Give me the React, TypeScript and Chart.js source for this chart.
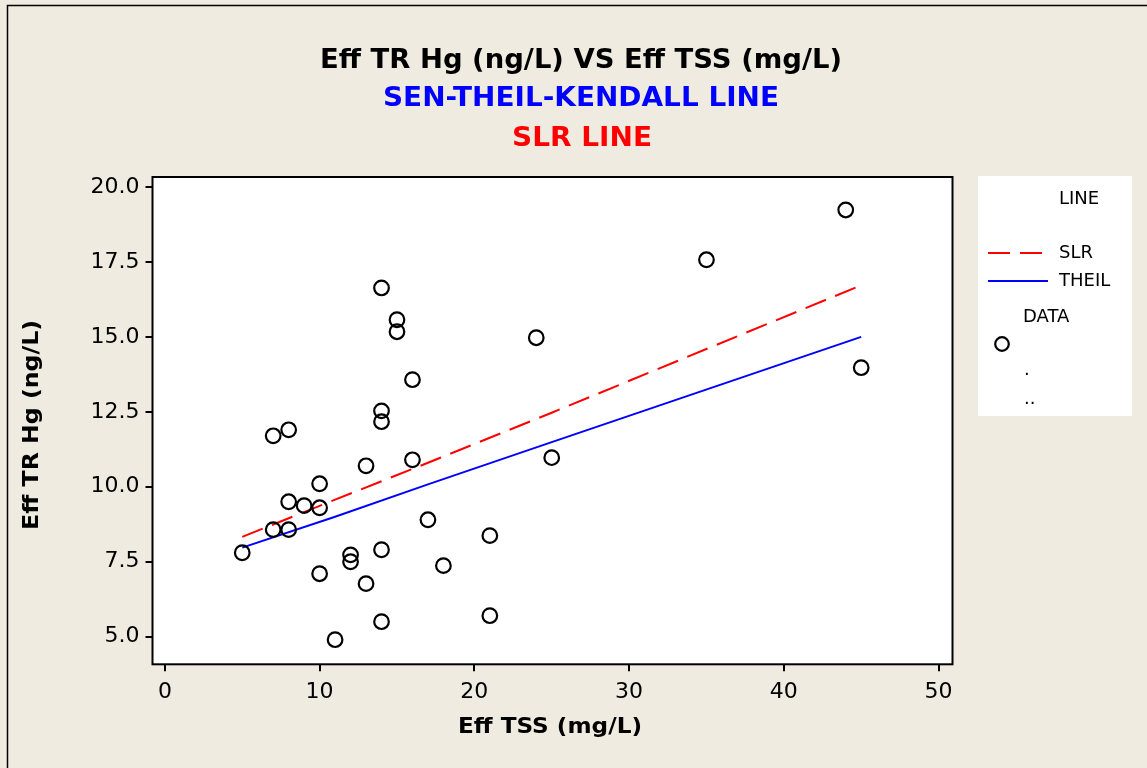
import React, { useEffect, useRef } from "react";
import { Chart, registerables } from "chart.js";

Chart.register(...registerables);

// ---- data ----
const tssValues = [5, 7, 7, 8, 8, 8, 9, 10, 10, 10, 11, 12, 12, 13, 13, 14, 14, 14, 14, 14, 15, 15, 16, 16, 17, 18, 21, 21, 24, 25, 35, 44, 45];
const hgValues = [7.8, 8.57, 11.7, 11.9, 9.5, 8.57, 9.37, 10.1, 9.3, 7.1, 4.9, 7.73, 7.5, 10.7, 6.77, 16.63, 12.53, 12.17, 7.9, 5.5, 15.57, 15.17, 13.57, 10.9, 8.9, 7.37, 8.37, 5.7, 14.97, 10.97, 17.57, 19.23, 13.97];

const lineX = [5, 11, 17, 25, 45];
const slrY = [8.33, 9.57, 10.8, 12.47, 16.72];
const theilY = [7.97, 9.0, 10.08, 11.49, 15.0];

const xTicks = [0, 10, 20, 30, 40, 50];
const yTicks = [5, 7.5, 10, 12.5, 15, 17.5, 20];

const titleLines = ["Eff TR Hg (ng/L) VS Eff TSS (mg/L)", "SEN-THEIL-KENDALL LINE", "SLR LINE"];
const xTitle = "Eff TSS (mg/L)";
const yTitle = "Eff TR Hg (ng/L)";
const legendTitle = "LINE";
const legendItems = ["SLR", "THEIL"];
const dataLegend = ["DATA", ".", ".."];

const W = 1147;
const H = 768;
const FONT = "'DejaVu Sans', Verdana, sans-serif";

function fitText(ctx: CanvasRenderingContext2D, text: string, cx: number, cy: number, font: string, color: string, targetW: number, rotate = false) {
  ctx.save();
  ctx.font = font;
  ctx.fillStyle = color;
  ctx.textAlign = "center";
  ctx.textBaseline = "middle";
  const w = ctx.measureText(text).width;
  ctx.translate(cx, cy);
  if (rotate) ctx.rotate(-Math.PI / 2);
  ctx.scale(targetW / w, 1);
  ctx.fillText(text, 0, 0);
  ctx.restore();
}

const decorPlugin = {
  id: "decor",
  beforeDraw(chart: any) {
    const { ctx, chartArea } = chart;
    ctx.save();
    ctx.fillStyle = "#efebe1";
    ctx.fillRect(0, 0, W, H);
    ctx.strokeStyle = "#000";
    ctx.lineWidth = 1.5;
    ctx.beginPath();
    ctx.moveTo(7.5, H + 2);
    ctx.lineTo(7.5, 5.5);
    ctx.lineTo(W + 2, 5.5);
    ctx.stroke();
    ctx.fillStyle = "#ffffff";
    ctx.fillRect(chartArea.left, chartArea.top, chartArea.right - chartArea.left, chartArea.bottom - chartArea.top);
    ctx.restore();
  },
  afterDraw(chart: any) {
    const { ctx, chartArea } = chart;
    ctx.save();
    ctx.strokeStyle = "#000";
    ctx.lineWidth = 2;
    ctx.strokeRect(chartArea.left, chartArea.top, chartArea.right - chartArea.left, chartArea.bottom - chartArea.top);

    // titles
    fitText(ctx, titleLines[0], 581, 61, `bold 27px ${FONT}`, "#000000", 522);
    fitText(ctx, titleLines[1], 581, 99, `bold 27px ${FONT}`, "#0000ff", 396);
    fitText(ctx, titleLines[2], 582, 139, `bold 27px ${FONT}`, "#ff0000", 140);

    // axis titles
    fitText(ctx, xTitle, 550, 728, `bold 21px ${FONT}`, "#000000", 184);
    fitText(ctx, yTitle, 33, 425, `bold 21px ${FONT}`, "#000000", 210, true);

    // legend
    ctx.fillStyle = "#ffffff";
    ctx.fillRect(978, 176, 154, 240);
    ctx.fillStyle = "#000";
    ctx.font = `18px ${FONT}`;
    ctx.textAlign = "left";
    ctx.textBaseline = "middle";
    ctx.fillText(legendTitle, 1059, 199);
    ctx.fillText(legendItems[0], 1059, 253);
    ctx.fillText(legendItems[1], 1059, 281);
    ctx.fillText(dataLegend[0], 1023, 317);
    ctx.fillText(dataLegend[1], 1024, 370);
    ctx.fillText(dataLegend[2], 1024, 399);

    ctx.lineWidth = 2;
    ctx.strokeStyle = "#ff0000";
    ctx.setLineDash([22, 10]);
    ctx.beginPath();
    ctx.moveTo(988, 253);
    ctx.lineTo(1042, 253);
    ctx.stroke();
    ctx.setLineDash([]);
    ctx.strokeStyle = "#0000ff";
    ctx.beginPath();
    ctx.moveTo(988, 281);
    ctx.lineTo(1048, 281);
    ctx.stroke();
    ctx.strokeStyle = "#000";
    ctx.lineWidth = 2.2;
    ctx.beginPath();
    ctx.arc(1002, 344, 6.8, 0, Math.PI * 2);
    ctx.stroke();
    ctx.restore();
  },
};

export default function App() {
  const ref = useRef<HTMLCanvasElement>(null);
  useEffect(() => {
    if (!ref.current) return;
    const chart = new Chart(ref.current, {
      type: "scatter",
      data: {
        datasets: [
          {
            label: "DATA",
            data: tssValues.map((x, i) => ({ x, y: hgValues[i] })),
            pointStyle: "circle",
            pointRadius: 7.3,
            borderColor: "#000",
            backgroundColor: "rgba(0,0,0,0)",
            pointBorderWidth: 2.2,
            showLine: false,
            order: 0,
          },
          {
            label: "SLR",
            data: lineX.map((x, i) => ({ x, y: slrY[i] })),
            showLine: true,
            borderColor: "#ff0000",
            borderWidth: 2,
            borderDash: [22, 10],
            pointRadius: 0,
            order: 1,
          },
          {
            label: "THEIL",
            data: lineX.map((x, i) => ({ x, y: theilY[i] })),
            showLine: true,
            borderColor: "#0000ff",
            borderWidth: 2,
            pointRadius: 0,
            order: 2,
          },
        ],
      },
      options: {
        animation: false,
        responsive: false,
        devicePixelRatio: 1,
        layout: { padding: { left: 0, top: 177, right: 194.5, bottom: 0 } },
        plugins: { legend: { display: false }, tooltip: { enabled: false }, title: { display: false } },
        scales: {
          x: {
            type: "linear",
            min: -0.8,
            max: 50.9,
            afterBuildTicks: (s: any) => { s.ticks = xTicks.map((v) => ({ value: v })); },
            afterFit: (s: any) => { s.height = 103.7; },
            grid: { drawOnChartArea: false, drawTicks: true, tickLength: 7, color: "#000", lineWidth: 2 },
            border: { display: false },
            ticks: { color: "#000", font: { family: FONT, size: 22 }, padding: 8, maxRotation: 0, autoSkip: false },
          },
          y: {
            type: "linear",
            min: 4.08,
            max: 20.33,
            afterBuildTicks: (s: any) => { s.ticks = yTicks.map((v) => ({ value: v })); },
            afterFit: (s: any) => { s.width = 152.5; },
            grid: { drawOnChartArea: false, drawTicks: true, tickLength: 7, color: "#000", lineWidth: 2 },
            border: { display: false },
            ticks: { color: "#000", font: { family: FONT, size: 22 }, padding: 6, autoSkip: false, callback: (v: any) => Number(v).toFixed(1) },
          },
        },
      },
      plugins: [decorPlugin],
    });
    return () => chart.destroy();
  }, []);
  return (
    <div style={{ position: "fixed", left: 0, top: 0, width: W, height: H }}>
      <canvas ref={ref} width={W} height={H} style={{ width: W, height: H, display: "block" }} />
    </div>
  );
}
